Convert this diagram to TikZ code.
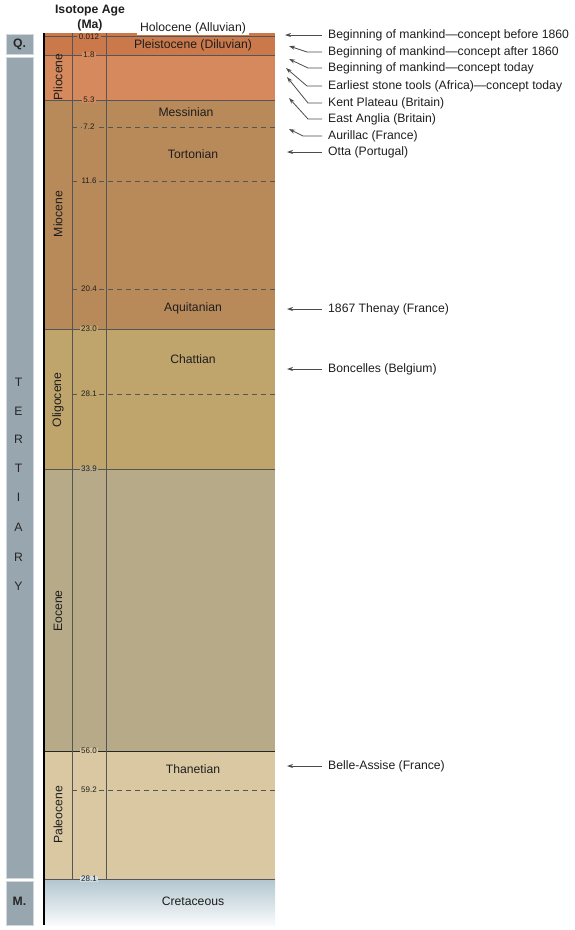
\documentclass[tikz,border=0pt]{standalone}
\usepackage{fontspec}
\setmainfont{Liberation Sans}
\usetikzlibrary{arrows.meta}
\definecolor{cPleist}{RGB}{203,121,75}
\definecolor{cPlio}{RGB}{213,137,92}
\definecolor{cMio}{RGB}{185,138,89}
\definecolor{cOlig}{RGB}{191,164,108}
\definecolor{cEoc}{RGB}{182,170,136}
\definecolor{cPaleo}{RGB}{218,200,163}
\definecolor{cCret}{RGB}{178,198,207}
\definecolor{cGray}{RGB}{152,166,175}
\definecolor{cLine}{RGB}{85,85,85}
\definecolor{cText}{RGB}{30,30,30}
\begin{document}
\begin{tikzpicture}[x=1pt,y=-1pt,
  txt/.style={font=\fontsize{12.2}{14}\selectfont, text=cText, inner sep=0pt},
  rlabel/.style={txt, anchor=west},
  stage/.style={txt},
  epoch/.style={txt, rotate=90},
  age/.style={font=\fontsize{8}{9}\selectfont, text=cText, inner xsep=1.5pt, inner ysep=0.5pt},
  solidline/.style={draw=cLine, line width=0.9pt},
  dashline/.style={draw=cLine, line width=0.9pt, dash pattern=on 5pt off 4pt},
  vline/.style={draw=cLine, line width=1pt},
  arr/.style={draw=black!70, line width=0.8pt, -{Stealth[length=6pt,width=4pt]}},
  grayblock/.style={fill=cGray, draw=white!55!cGray, line width=0.6pt},
  letter/.style={font=\fontsize{12.2}{14}\selectfont, text=black!85}
]
\useasboundingbox (0,0) rectangle (575,930);

% header
\node[txt, font=\fontsize{12.2}{14}\selectfont\bfseries] (hdr1) at (90,11) {Isotope Age};
\node[txt, font=\fontsize{12.2}{14}\selectfont\bfseries] (hdr2) at (90,25) {(Ma)};

% gray column
\path[grayblock] (6,34) rectangle (33,54);
\path[grayblock] (6,57) rectangle (33,878);
\path[grayblock] (6,881) rectangle (33,925);
\node[letter, font=\fontsize{12.2}{14}\selectfont\bfseries] (q) at (19.5,44) {Q.};
\node[letter, font=\fontsize{12.2}{14}\selectfont\bfseries] (m) at (19.5,901) {M.};
\foreach \l/\yy [count=\i] in {T/382,E/411,R/439,T/468,I/497,A/527,R/557,Y/586}
  \node[letter] (ter\i) at (18.5,\yy) {\l};

% bands
\fill[cPleist] (44,33) rectangle (275,55);
\fill[cPlio] (44,55) rectangle (275,100);
\fill[cMio] (44,100) rectangle (275,329);
\fill[cOlig] (44,329) rectangle (275,469);
\fill[cEoc] (44,469) rectangle (275,751);
\fill[cPaleo] (44,751) rectangle (275,879);
\shade[top color=cCret, bottom color=white!92!cCret] (44,879) rectangle (275,925);

% boundaries
\draw[solidline] (44,36) -- (275,36);
\draw[solidline] (44,55) -- (275,55);
\draw[solidline] (44,100) -- (275,100);
\draw[dashline] (72,127) -- (275,127);
\draw[dashline] (72,181) -- (275,181);
\draw[dashline] (72,289) -- (275,289);
\draw[solidline] (44,329) -- (275,329);
\draw[dashline] (72,394) -- (275,394);
\draw[solidline] (44,469) -- (275,469);
\draw[draw=black!85, line width=1pt] (44,751) -- (275,751);
\draw[dashline] (72,790) -- (275,790);
\draw[solidline] (44,879) -- (275,879);

% verticals
\draw[vline] (72,33) -- (72,879);
\draw[vline] (106,33) -- (106,879);
\draw[draw=black, line width=1.3pt] (44,33) -- (44,925);

% ages
\node[age, fill=cPleist] (a1) at (89,37) {0.012};
\node[age, fill=cPlio] (a2) at (89,55) {1.8};
\node[age, fill=cPlio] (a3) at (89,100) {5.3};
\node[age, fill=cMio] (a4) at (89,127) {7.2};
\node[age, fill=cMio] (a5) at (89,181) {11.6};
\node[age, fill=cMio] (a6) at (89,289) {20.4};
\node[age, fill=cOlig] (a7) at (89,329) {23.0};
\node[age, fill=cOlig] (a8) at (89,394) {28.1};
\node[age, fill=cEoc] (a9) at (89,469) {33.9};
\node[age, fill=cPaleo] (a10) at (89,751) {56.0};
\node[age, fill=cPaleo] (a11) at (89,790) {59.2};
\node[age, fill=cCret!60!white] (a12) at (89,879) {28.1};

% epochs
\node[epoch] (ep1) at (58,77) {Pliocene};
\node[epoch] (ep2) at (58,214) {Miocene};
\node[epoch] (ep3) at (58,400) {Oligocene};
\node[epoch] (ep4) at (58,611) {Eocene};
\node[epoch] (ep5) at (58,815) {Paleocene};

% stages
\node[stage, fill=white, inner xsep=3pt, inner ysep=1.5pt] (holo) at (193,28) {Holocene (Alluvian)};
\node[stage] (pleist) at (193,45) {Pleistocene (Diluvian)};
\node[stage] (mess) at (186,112) {Messinian};
\node[stage] (tort) at (193,154) {Tortonian};
\node[stage] (aqui) at (193,308) {Aquitanian};
\node[stage] (chat) at (193,359) {Chattian};
\node[stage] (than) at (193,769) {Thanetian};
\node[stage] (cret) at (193,901) {Cretaceous};

% right labels
\node[rlabel] (r1) at (328,35) {Beginning of mankind—concept before 1860};
\node[rlabel] (r2) at (328,52) {Beginning of mankind—concept after 1860};
\node[rlabel] (r3) at (328,68) {Beginning of mankind—concept today};
\node[rlabel] (r4) at (328,86) {Earliest stone tools (Africa)—concept today};
\node[rlabel] (r5) at (328,103) {Kent Plateau (Britain)};
\node[rlabel] (r6) at (328,119) {East Anglia (Britain)};
\node[rlabel] (r7) at (328,136) {Aurillac (France)};
\node[rlabel] (r8) at (328,152) {Otta (Portugal)};
\node[rlabel] (r9) at (328,309) {1867 Thenay (France)};
\node[rlabel] (r10) at (328,369) {Boncelles (Belgium)};
\node[rlabel] (r11) at (328,766) {Belle-Assise (France)};

% arrow points
\coordinate (h1) at (285,35);
\coordinate (b2) at (307,52); \coordinate (h2) at (289,46);
\coordinate (b3) at (308,68); \coordinate (h3) at (289,59);
\coordinate (b4) at (307,86); \coordinate (h4) at (286,68);
\coordinate (b5) at (308,103); \coordinate (h5) at (287,77);
\coordinate (b6) at (308,119); \coordinate (h6) at (289,98);
\coordinate (b7) at (303,136); \coordinate (h7) at (289,129);
\coordinate (h8) at (287,152);
\coordinate (h9) at (287,309);
\coordinate (h10) at (287,369);
\coordinate (h11) at (287,766);

\draw[arr] ([xshift=-6pt]r1.west) -- (h1);
\draw[arr] ([xshift=-6pt]r2.west) -- (b2) -- (h2);
\draw[arr] ([xshift=-6pt]r3.west) -- (b3) -- (h3);
\draw[arr] ([xshift=-6pt]r4.west) -- (b4) -- (h4);
\draw[arr] ([xshift=-6pt]r5.west) -- (b5) -- (h5);
\draw[arr] ([xshift=-6pt]r6.west) -- (b6) -- (h6);
\draw[arr] ([xshift=-6pt]r7.west) -- (b7) -- (h7);
\draw[arr] ([xshift=-6pt]r8.west) -- (h8);
\draw[arr] ([xshift=-6pt]r9.west) -- (h9);
\draw[arr] ([xshift=-6pt]r10.west) -- (h10);
\draw[arr] ([xshift=-6pt]r11.west) -- (h11);
\end{tikzpicture}
\end{document}
